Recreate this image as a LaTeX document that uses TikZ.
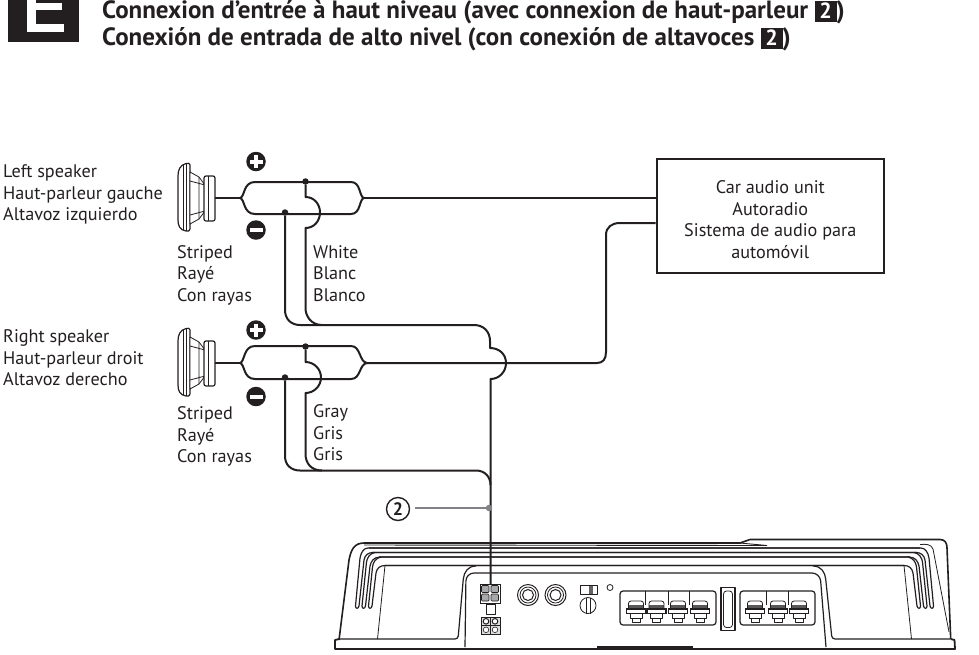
\documentclass[tikz,border=0pt]{standalone}
\usepackage{fontspec}
\setmainfont{PT Sans}
\usetikzlibrary{calc}
\definecolor{ink}{HTML}{231F20}
\definecolor{grayw}{HTML}{808285}
\definecolor{midg}{HTML}{A7A9AC}
\tikzset{
 wire/.style={draw=ink,line width=2pt,line join=round},
 thin line/.style={draw=ink,line width=0.8pt,line join=round},
 med line/.style={draw=ink,line width=1.2pt,line join=round},
 lbl/.style={font=\fontsize{18.2}{21.5}\selectfont,text=ink,align=left,anchor=north west,inner sep=0pt},
 dotn/.style={circle,fill=ink,inner sep=0pt,minimum size=6.5pt},
 pol/.style={circle,fill=ink,inner sep=0pt,minimum size=19.5pt},
 boxn/.style={draw=ink,line width=2.4pt,minimum width=227pt,minimum height=114pt,inner sep=0pt},
 boxt/.style={inner sep=0pt,align=center,font=\fontsize{18.2}{21.5}\selectfont,text=ink},
 head/.style={anchor=base west,inner sep=0pt,font=\fontsize{25}{30}\selectfont\bfseries,text=ink},
}
\newcommand{\numbox}{\makebox[0pt][l]{\textcolor{ink}{\rule[-3pt]{22pt}{21pt}}}\makebox[22pt]{\textcolor{white}{\fontsize{22}{22}\selectfont 2}}}
\newcommand{\spk}[1]{%
\begin{scope}[yshift=#1]
 \draw[med line,fill=white] (186,163.5) .. controls (180,165) and (178,170) .. (178,176) -- (178,220) .. controls (178,226) and (180,230) .. (186,231) .. controls (188,231.5) and (190,231) .. (190,229) -- (190,165) .. controls (190,163) and (188,163) .. (186,163.5) -- cycle;
 \draw[thin line] (183,165) -- (183,230) (186,164) -- (186,231);
 \draw[thin line,fill=white] (190,172) -- (199,177) -- (205,185) -- (205,211) -- (199,219) -- (190,224) -- cycle;
 \draw[thin line] (199,177) -- (199,219) (190,181) -- (205,185) (190,215) -- (205,211);
 \draw[med line,fill=white,rounded corners=2pt] (204,176) rectangle (215,221);
 \draw[thin line] (208,176) -- (208,221);
\end{scope}}
\newcommand{\ampside}{%
 \draw[med line] (920,548) -- (368,548) .. controls (364,548) and (361,552) .. (360,558) -- (355.5,606) .. controls (355.5,609) and (358.5,609) .. (359,606) -- (364,560) .. controls (365,555) and (368,552.5) .. (373,552.5) -- (917,552.5);
 \draw[med line] (375,552.5) .. controls (370,553) and (367,558) .. (366.5,562) -- (362,606) .. controls (362,609) and (365,609) .. (365.5,606) -- (370,566) .. controls (371,561) and (374,557) .. (380,557) -- (910,557);
 \draw[med line] (381,557) .. controls (376,558) and (373,562) .. (372.5,567) -- (368.5,606) .. controls (368.5,609) and (371.5,609) .. (372,606) -- (376,573) .. controls (377,568) and (380,565.5) .. (385,565.5) -- (904,565.5);
 \draw[thin line] (385,565.5) -- (377.5,639);
}
\begin{document}
\begin{tikzpicture}[x=1pt,y=-1pt]
\useasboundingbox (0,0) rectangle (979,654);
% header
\fill[ink] (8,0) rectangle (79,42);
\fill[white] (27,0) rectangle (36,32);
\fill[white] (27,24) rectangle (63.5,32);
\fill[white] (27,3) rectangle (62,10);
\node[head] (h1) at (102,18.5) {Connexion d’entrée à haut niveau (avec connexion de haut-parleur \numbox)};
\node[head] (h2) at (102,45.5) {Conexión de entrada de alto nivel (con conexión de altavoces \numbox)};
% speakers
\spk{0pt}
\spk{-165pt}
% box
\node[boxn] (unit) at (770.3,216) {};
\node[boxt] (unitt) at (770.3,219.5) {Car audio unit\\Autoradio\\Sistema de audio para\\automóvil};
% named points
\coordinate (s1) at (215,198);
\coordinate (s2) at (215,363);
\node[dotn] (d1a) at (305.5,181.5) {};
\node[dotn] (d1b) at (285,212.5) {};
\node[dotn] (d2a) at (305.5,346.5) {};
\node[dotn] (d2b) at (285,377.5) {};
\coordinate (u1) at (unit.west |- 0,198);
\coordinate (u2) at (unit.west |- 0,223);
\coordinate (amp) at (490.5,585);
% amplifier
\draw[draw=ink,line width=1.6pt,line join=round] (339,640) -- (349,560) .. controls (351,550) and (354,543) .. (364,543) -- (740,543) -- (750,539.5) -- (940,539.5) .. controls (945,539.5) and (947,543) .. (947,548) -- (950.7,639);
\draw[draw=ink,line width=0.9pt] (740,543) -- (767,545.5) (364,545) -- (767,545.5);
\draw[draw=ink,line width=1.8pt,line join=round] (339,639) -- (335,640) -- (335,649) -- (955,649) -- (954.5,640) -- (950.7,639);
\draw[med line,rounded corners=3pt] (339,639) -- (458,639) -- (463,582) .. controls (464,572) and (468,566) .. (476,566);
\draw[med line,rounded corners=3pt] (950,639) -- (832,639) -- (826,582) .. controls (825,572) and (821,566) .. (813,566);
\ampside
\begin{scope}[xshift=1289pt,x=-1pt]
\ampside
\end{scope}
\draw[thin line] (920,544.5) .. controls (926,544) and (931,544) .. (933,549) -- (949,632);
\draw[med line,rounded corners=8pt] (465,647) -- (466,573) -- (820,573) -- (826,647);
\draw[draw=ink,line width=3pt] (597,647) -- (693,647);
% connector blocks
\draw[draw=ink,line width=1pt,fill=white] (480,584) rectangle (500,603);
\foreach \x/\y in {481.5/585.5,491/585.5,481.5/594,491/594}{
 \draw[draw=ink,line width=0.7pt,fill=midg,rounded corners=1pt] (\x,\y) rectangle +(7.5,7);}
\draw[thin line,fill=white] (486,604) rectangle (495,614);
\draw[draw=ink,line width=0.9pt,fill=midg!40] (481,617) rectangle (500,634);
\draw[thin line] (490.5,617) -- (490.5,634) (481,625.5) -- (500,625.5);
\foreach \x in {486,495}{
 \draw[draw=ink,line width=1pt,fill=white] (\x,621.3) circle (2.8);
 \draw[draw=ink,line width=0.6pt,fill=white] (\x,629.8) circle (2.8);}
% RCA
\foreach \x in {528,555.5}{
 \draw[draw=ink,line width=1pt] (\x,595) circle (10.5);
 \draw[draw=ink,line width=0.8pt] (\x,595) circle (8);
 \draw[draw=ink,line width=1pt] (\x,595) circle (5.5);}
% switch, knob, led
\draw[thin line] (580,585) rectangle (597,594);
\fill[ink!70] (589,585.5) rectangle (593,593.5);
\draw[thin line] (588,605.5) circle (8);
\draw[thin line] (586,597.5) -- (586,613.5) (590,597.5) -- (590,613.5);
\draw[thin line] (610,587.5) circle (3);
% terminal blocks
\draw[med line,rounded corners=3pt] (620,591) rectangle (716,625);
\draw[med line,rounded corners=3pt] (740,591) rectangle (815,625);
\foreach \x in {645,668,689,766,788}{\draw[thin line] (\x,591) -- (\x,605);}
\foreach \x in {636,656.5,678,700,755,778,799}{
 \fill[ink!75] (\x-7.5,604.5) rectangle (\x+7.5,609);
 \draw[thin line,rounded corners=2.5pt] (\x-7.5,609) -- (\x-7.5,601) -- (\x+7.5,601) -- (\x+7.5,609);
 \draw[draw=ink,line width=1.2pt,fill=white] (\x-9.5,609) rectangle (\x+9.5,613.5);
 \draw[thin line] (\x-6,613.5) rectangle (\x+6,618) (\x-4,618) rectangle (\x+4,622);
}
% fuse
\draw[med line] (721,587.5) rectangle (735,630.5);
\draw[thin line,rounded corners=3pt] (723.5,591) rectangle (732.5,627.5);
% wires left
\draw[wire,line width=1.6pt] (s1) -- (240,198);
\draw[wire] (240,198) .. controls (245,197) and (243,182) .. (255,182) -- (351,182) .. controls (361,182) and (359,197) .. (364,198) .. controls (359,199) and (361,214) .. (351,214) -- (255,214) .. controls (243,214) and (245,199) .. (240,198);
\draw[wire] (364,198) -- (u1);
\draw[wire] (d1a) -- (305.5,197) .. controls (314,197) and (320,204) .. (320,212.5) .. controls (320,221) and (314,228) .. (305.5,228) -- (305.5,308) .. controls (305.5,316) and (311,325) .. (322,325);
\draw[wire] (d1b) -- (285,310) .. controls (285,319) and (291,325) .. (300,325) -- (474,325) .. controls (484,325) and (490,332) .. (490,341) -- (490,348) .. controls (499,348) and (506,354) .. (506,363) .. controls (506,372) and (499,379) .. (490.5,379) -- (amp);
% right speaker wires
\draw[wire,line width=1.6pt] (s2) -- (240,363);
\draw[wire] (240,363) .. controls (245,362) and (243,346) .. (255,346) -- (351,346) .. controls (361,346) and (359,362) .. (367,363) .. controls (359,364) and (361,379) .. (351,379) -- (255,379) .. controls (243,379) and (245,364) .. (240,363);
\draw[wire] (367,363) -- (597,363) .. controls (603,363) and (606,359) .. (606,352) -- (606,235) .. controls (606,227) and (612,223) .. (620,223) -- (u2);
\draw[wire] (d2a) -- (305.5,362) .. controls (314,362) and (321,369) .. (321,377.5) .. controls (321,386) and (314,393) .. (305.5,393) -- (305.5,454) .. controls (305.5,463) and (311,470.5) .. (322,470.5);
\draw[wire] (d2b) -- (285,456) .. controls (285,465) and (291,470.5) .. (300,470.5) -- (476,470.5) .. controls (485,470.5) and (490.5,477) .. (490.5,485);
% polarity
\node[pol] (p1) at (256,161.5) {};
\node[pol] (m1) at (256,230) {};
\node[pol] (p2) at (256,330) {};
\node[pol] (m2) at (256,396.5) {};
\foreach \n in {p1,p2}{\fill[white] ($(\n)+(-6.5,-2)$) rectangle ($(\n)+(6.5,2)$); \fill[white] ($(\n)+(-2,-6.5)$) rectangle ($(\n)+(2,6.5)$);}
\foreach \n in {m1,m2}{\fill[white] ($(\n)+(-6.5,-2)$) rectangle ($(\n)+(6.5,2)$);}
% labels
\node[lbl] (t1) at (3,164.5) {Left speaker\\Haut-parleur gauche\\Altavoz izquierdo};
\node[lbl] (t2) at (3,329.5) {Right speaker\\Haut-parleur droit\\Altavoz derecho};
\node[lbl] (t3) at (177,245) {Striped\\Rayé\\Con rayas};
\node[lbl] (t4) at (313,245) {White\\Blanc\\Blanco};
\node[lbl] (t5) at (177,406.5) {Striped\\Rayé\\Con rayas};
\node[lbl] (t6) at (313,404.5) {Gray\\Gris\\Gris};
% callout
\node[circle,draw=ink,line width=1.4pt,minimum size=23pt,inner sep=0pt,font=\fontsize{18}{18}\selectfont\bfseries,text=ink] (c2) at (398,509) {2};
\node[circle,fill=grayw,inner sep=0pt,minimum size=6.5pt] (gd) at (489,508) {};
\draw[draw=grayw,line width=1.6pt] (415,508) -- (gd);
\end{tikzpicture}
\end{document}
